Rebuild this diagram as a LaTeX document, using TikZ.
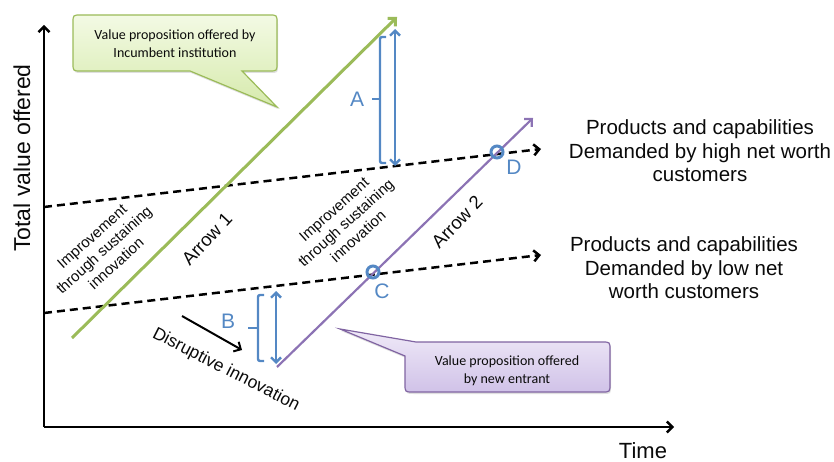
\documentclass[tikz,border=0pt]{standalone}
\usepackage{fontspec}
\setmainfont{Liberation Sans}
\newfontfamily\calib{Carlito}
\usetikzlibrary{arrows.meta,shadows}
\definecolor{grn}{RGB}{155,187,89}
\definecolor{prp}{RGB}{140,115,180}
\definecolor{blu}{RGB}{84,136,196}
\definecolor{gtop}{RGB}{243,250,228}
\definecolor{gbot}{RGB}{214,234,172}
\definecolor{ptop}{RGB}{240,234,248}
\definecolor{pbot}{RGB}{208,194,232}
\definecolor{pbrd}{RGB}{128,100,162}
\definecolor{txt}{RGB}{10,10,10}
\tikzset{
  barbtip/.style={-{Straight Barb[length=5.5pt,width=11pt]}},
  dbarb/.style={{Straight Barb[length=5pt,width=10pt]}-{Straight Barb[length=5pt,width=10pt]}},
  axisline/.style={line width=2.4pt, black, barbtip},
  dashline/.style={line width=2.5pt, black, dash pattern=on 8pt off 5pt, barbtip},
  blueline/.style={line width=2.4pt, blu},
  callG/.style={top color=gtop, bottom color=gbot, draw=grn, line width=1.2pt,
     drop shadow={opacity=0.25, shadow xshift=1pt, shadow yshift=-2pt}},
  callP/.style={top color=ptop, bottom color=pbot, draw=pbrd, line width=1.2pt,
     drop shadow={opacity=0.25, shadow xshift=1pt, shadow yshift=-2pt}},
  calltext/.style={font=\calib\fontsize{14}{18}\selectfont, text=txt, align=center},
  bigtext/.style={font=\fontsize{20.5}{23.5}\selectfont, text=txt, align=center},
  smalltext/.style={font=\fontsize{15}{18}\selectfont, text=txt, align=center},
  midtext/.style={font=\fontsize{18.5}{21}\selectfont, text=txt},
  letter/.style={font=\fontsize{21}{24}\selectfont, text=blu},
}
\begin{document}
\begin{tikzpicture}[x=1pt,y=-1pt]
\useasboundingbox (0,0) rectangle (834,462);

% coordinates
\coordinate (O) at (44,427);
\coordinate (Ytop) at (44,25);
\coordinate (Xend) at (674,427);
\coordinate (h1) at (44,207);
\coordinate (h2) at (541,149);
\coordinate (l1) at (44,313);
\coordinate (l2) at (541,255);
\coordinate (g1) at (72,338);
\coordinate (g2) at (397,17);
\coordinate (p1) at (277,367);
\coordinate (p2) at (533,118);
\coordinate (a1) at (395,29);
\coordinate (a2) at (395,166);
\coordinate (b1) at (276,291);
\coordinate (b2) at (276,364);
\coordinate (k1) at (182,316);
\coordinate (k2) at (242,350);

% axes
\draw[axisline] (O) -- (Ytop);
\draw[axisline] (O) -- (Xend);

% dashed demand lines
\draw[dashline] (h1) -- (h2);
\draw[dashline] (l1) -- (l2);

% green arrow (Arrow 1)
\draw[grn, line width=3pt, barbtip] (g1) -- (g2);
% purple arrow (Arrow 2)
\draw[prp, line width=2.2pt, barbtip] (p1) -- (p2);

% blue A
\draw[blueline, dbarb] (a1) -- (a2);
\draw[blueline, rounded corners=2pt] (386,37) -- (380,37) -- (380,163) -- (386,163);
\draw[blueline] (380,99) -- (372,99);
\node[letter] (A) at (357,99) {A};

% blue B
\draw[blueline, dbarb] (b1) -- (b2);
\draw[blueline, rounded corners=2pt] (264,295) -- (258,295) -- (258,361) -- (264,361);
\draw[blueline] (258,328) -- (248,328);
\node[letter] (B) at (228,321) {B};

% black arrow
\draw[black, line width=2pt, barbtip] (k1) -- (k2);

% circles C and D
\draw[blu, line width=3pt] (373,272) circle[radius=6];
\draw[blu, line width=3pt] (497,152) circle[radius=6];
\node[letter] (C) at (382,291) {C};
\node[letter] (D) at (514,167) {D};

% callouts
\path[callG] (73,23) .. controls (73,15) .. (81,15) -- (269,15)
  .. controls (277,15) .. (277,23) -- (277,63) .. controls (277,71) .. (269,71)
  -- (242,71) -- (277,107) -- (190,71) -- (81,71) .. controls (73,71) .. (73,63) -- cycle;
\node[calltext] (gt) at (175,44) {Value proposition offered by\\Incumbent institution};

\path[callP] (340,329) -- (416,342) -- (602,342) .. controls (610,342) .. (610,350)
  -- (610,384) .. controls (610,392) .. (602,392) -- (413,392)
  .. controls (405,392) .. (405,384) -- (405,356) -- cycle;
\node[calltext] (pt) at (507,371) {Value proposition offered\\by new entrant};

% axis labels
\node[font=\fontsize{23}{26}\selectfont, text=txt, rotate=90] (ylab) at (22,158) {Total value offered};
\node[font=\fontsize{22}{26}\selectfont, text=txt] (xlab) at (643,451) {Time};

% right texts
\node[bigtext] (hi) at (700,151) {Products and capabilities\\Demanded by high net worth\\customers};
\node[bigtext] (lo) at (684,268) {Products and capabilities\\Demanded by low net\\worth customers};

% rotated labels
\node[smalltext, rotate=42] (imp1) at (104,250) {Improvement\\through sustaining\\innovation};
\node[smalltext, rotate=42] (imp2) at (346,223) {Improvement\\through sustaining\\innovation};
\node[midtext, rotate=47] (ar1) at (207,239) {Arrow 1};
\node[midtext, rotate=46] (ar2) at (457,222) {Arrow 2};
\node[font=\fontsize{17.5}{20}\selectfont, text=txt, rotate=-27] (dis) at (226,370) {Disruptive innovation};
\end{tikzpicture}
\end{document}
